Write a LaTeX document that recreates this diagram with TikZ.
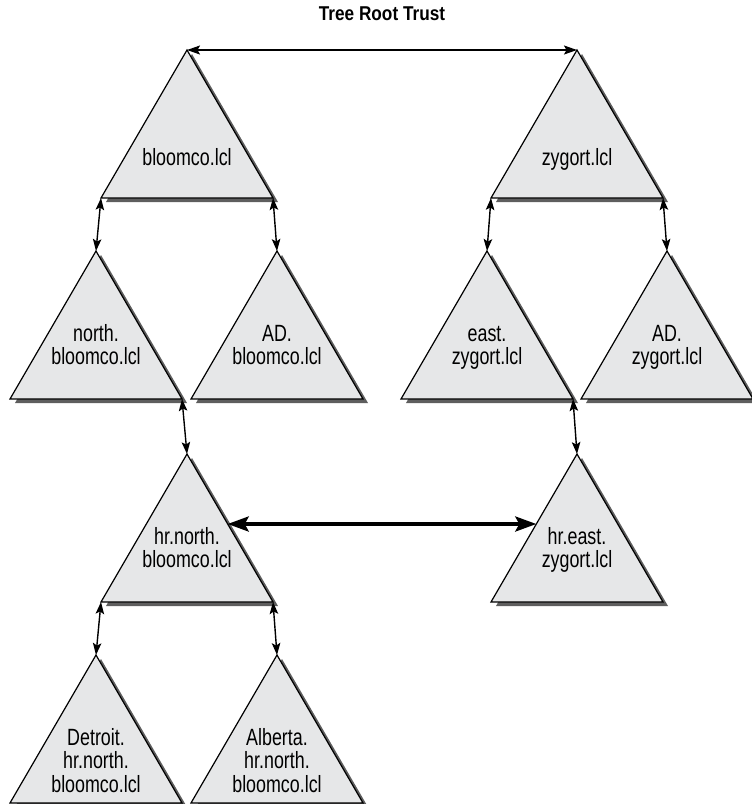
\documentclass[tikz,border=0pt]{standalone}
\usepackage{fontspec}
\setmainfont{Liberation Sans}[FakeStretch=0.76]
\newfontfamily\titlefont{Liberation Sans}[FakeStretch=0.86]
\usetikzlibrary{arrows.meta,calc}
\definecolor{trigray}{HTML}{E6E7E8}
\definecolor{shadowgray}{HTML}{5E5E5E}
\newcommand\tri[5]{%
  \coordinate (#1a) at (#2,#3);
  \coordinate (#1l) at ($(#1a)+(-86,148)$);
  \coordinate (#1r) at ($(#1a)+(86,148)$);
  \fill[shadowfill] ($(#1a)+(5,4)$) -- ($(#1l)+(5,4)$) -- ($(#1r)+(5,4)$) -- cycle;
  \draw[trifill] (#1a) -- (#1l) -- (#1r) -- cycle;
  \node[lbl] (#1t) at ($(#1a)+(0,{#4-19})$) {\rule{0pt}{19pt}#5};
}
\begin{document}
\begin{tikzpicture}[x=1pt,y=-1pt,
  shadowfill/.style={fill=shadowgray},
  trifill/.style={fill=trigray,draw=black,line width=1.2pt,line join=miter},
  lbl/.style={anchor=north,align=center,inner sep=0pt,
    font=\fontsize{23.5}{23.5}\selectfont},
  titlelbl/.style={anchor=base,inner sep=0pt,
    font=\titlefont\bfseries\fontsize{20}{20}\selectfont},
  link/.style={line width=1.4pt,{Stealth[length=12pt,width=8.5pt,inset=2.5pt]}-{Stealth[length=12pt,width=8.5pt,inset=2.5pt]}},
  toplink/.style={line width=1.4pt,{Stealth[length=13pt,width=9pt,inset=2.5pt]}-{Stealth[length=13pt,width=9pt,inset=2.5pt]}},
  thicklink/.style={line width=3.5pt,{Stealth[length=21pt,width=15pt,inset=4pt]}-{Stealth[length=21pt,width=15pt,inset=4pt]}}
]
\useasboundingbox (0,0) rectangle (752,804);

\node[titlelbl] (title) at (382,20) {Tree Root Trust};

\tri{bloom}{187}{50}{115}{bloomco.lcl}
\tri{zyg}{577}{50}{115}{zygort.lcl}
\tri{north}{96}{251}{90}{north.\\bloomco.lcl}
\tri{adb}{277}{251}{90}{AD.\\bloomco.lcl}
\tri{east}{487}{251}{90}{east.\\zygort.lcl}
\tri{adz}{667}{251}{90}{AD.\\zygort.lcl}
\tri{hrn}{187}{454}{90}{hr.north.\\bloomco.lcl}
\tri{hre}{577}{454}{90}{hr.east.\\zygort.lcl}
\tri{det}{96}{655}{90}{Detroit.\\hr.north.\\bloomco.lcl}
\tri{alb}{277}{655}{90}{Alberta.\\hr.north.\\bloomco.lcl}

\draw[toplink] (blooma) -- (zyga);
\draw[link] (blooml) -- (northa);
\draw[link] (bloomr) -- (adba);
\draw[link] (zygl) -- (easta);
\draw[link] (zygr) -- (adza);
\draw[link] (northr) -- (hrna);
\draw[link] (eastr) -- (hrea);
\draw[link] (hrnl) -- (deta);
\draw[link] (hrnr) -- (alba);

\coordinate (hrnE) at ($(hrna)!0.473!(hrnr)$);
\coordinate (hreW) at ($(hrea)!0.473!(hrel)$);
\draw[thicklink] (hrnE) -- (hreW);
\end{tikzpicture}
\end{document}
